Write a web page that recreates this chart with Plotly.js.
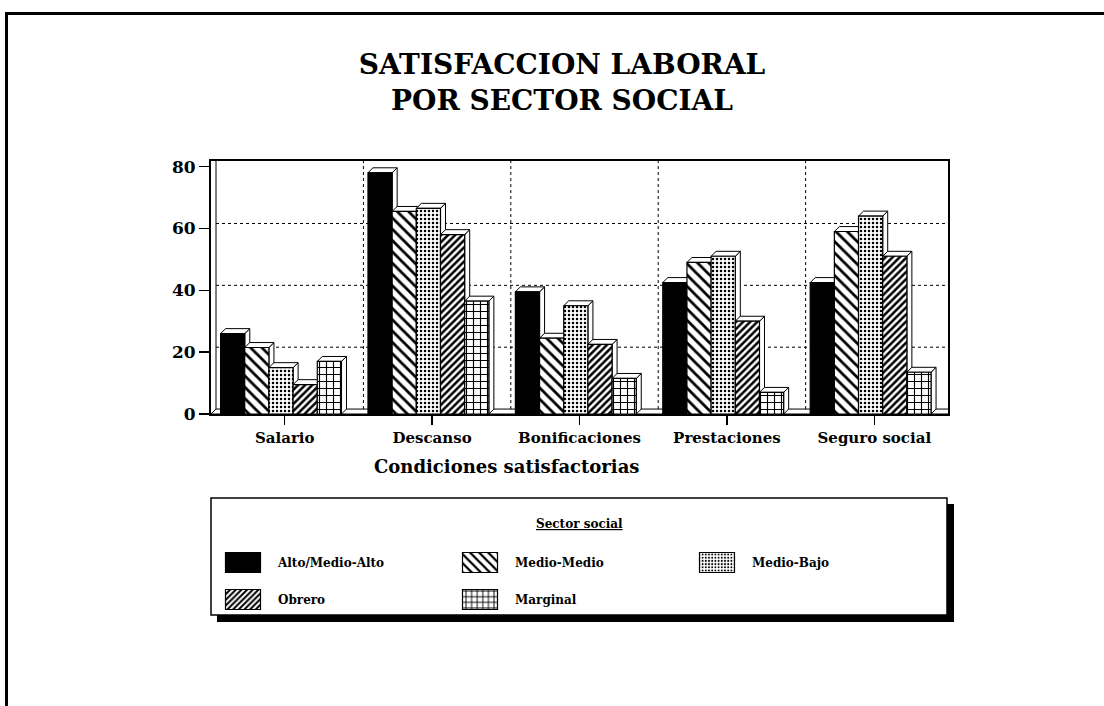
<!DOCTYPE html>
<html><head><meta charset="utf-8">
<script src="https://cdn.plot.ly/plotly-3.0.1.min.js"></script>
<style>
html,body{margin:0;padding:0;background:#fff;overflow:hidden;}
#chart{width:1104px;height:706px;}
#frame{position:absolute;left:5px;top:12px;width:1099px;height:694px;border-top:3px solid #000;border-left:3px solid #000;pointer-events:none;box-sizing:border-box;}
</style></head><body>
<div id="chart"></div><div id="frame"></div>
<script>
// ---- data ----
const categories = ['Salario', 'Descanso', 'Bonificaciones', 'Prestaciones', 'Seguro social'];
const seriesNames = ['Alto/Medio-Alto', 'Medio-Medio', 'Medio-Bajo', 'Obrero', 'Marginal'];
const altoMedioAlto = [26, 78, 39.5, 42.5, 42.5];
const medioMedio    = [21.5, 65.5, 24.5, 49, 59];
const medioBajo     = [15, 66.5, 35, 51, 64];
const obrero        = [9.5, 58, 22.5, 30, 51];
const marginal      = [17, 36.5, 11.5, 7, 13.5];
const yTicks = [0, 20, 40, 60, 80];
const titleText = 'SATISFACCION LABORAL<br>POR SECTOR SOCIAL';
const xTitle = 'Condiciones satisfactorias';
const legendTitle = 'Sector social';

const seriesValues = [altoMedioAlto, medioMedio, medioBajo, obrero, marginal];

// ---- styling ----
const xPos = categories.map((c, i) => i);
const barW = 0.164, groupStart = -0.435, dx = 0.034, dy = 1.6;
const patterns = [
  null,
  {shape: '\\', size: 8, solidity: 0.35},
  {shape: '.', size: 4, solidity: 0.3},
  {shape: '/', size: 5, solidity: 0.5},
  {shape: '+', size: 7, solidity: 0.3}
];
const serif = 'DejaVu Serif, serif';

const traces = seriesValues.map((vals, k) => {
  const marker = {line: {color: '#000', width: 1.2}};
  if (patterns[k]) {
    marker.color = '#fff';
    marker.pattern = Object.assign({fgcolor: '#000', bgcolor: '#fff', fillmode: 'replace'}, patterns[k]);
  } else {
    marker.color = '#000';
  }
  return {
    type: 'bar', x: xPos, y: vals, name: seriesNames[k],
    width: barW, offset: groupStart + k * barW,
    marker: marker, hoverinfo: 'skip',
    legend: k < 3 ? 'legend' : 'legend2'
  };
});

// ---- 3D decoration shapes computed from data ----
const shapes = [];
const xMin = -0.5, xMax = categories.length - 0.5;
const plotL = 211, plotR = 948, plotT = 161, plotB = 414;
const pw = plotR - plotL, ph = plotB - plotT;
const px2x = p => (p - plotL) / pw, px2y = p => (plotB - p) / ph;
// legend box shadow + box
shapes.push({type: 'rect', xref: 'paper', yref: 'paper', layer: 'below',
  x0: px2x(217), x1: px2x(954), y0: px2y(622), y1: px2y(504), fillcolor: '#000', line: {width: 0}});
shapes.push({type: 'rect', xref: 'paper', yref: 'paper', layer: 'below',
  x0: px2x(211), x1: px2x(947), y0: px2y(615), y1: px2y(498), fillcolor: '#fff', line: {color: '#000', width: 1.5}});
// floor
shapes.push({type: 'path', xref: 'x', yref: 'y', layer: 'between',
  path: `M${xMin},0 L${xMin + dx},${dy} L${xMax + dx},${dy} L${xMax},0 Z`,
  fillcolor: '#fff', line: {color: '#000', width: 1}});
// back wall line
shapes.push({type: 'line', xref: 'x', yref: 'y', layer: 'between',
  x0: xMin + dx, x1: xMin + dx, y0: dy, y1: 90, line: {color: '#000', width: 1}});
// back-wall gridlines
yTicks.filter(v => v > 0 && v < yTicks[yTicks.length - 1]).forEach(v => {
  shapes.push({type: 'line', xref: 'x', yref: 'y', layer: 'between',
    x0: xMin + dx, x1: xMax, y0: v + dy, y1: v + dy, line: {color: '#000', width: 1, dash: 'dot'}});
});
// category separators
categories.slice(1).forEach((c, i) => {
  const xs = i + 0.5 + dx;
  shapes.push({type: 'line', xref: 'x', yref: 'y', layer: 'between',
    x0: xs, x1: xs, y0: dy, y1: 90, line: {color: '#000', width: 1, dash: 'dot'}});
});
// bar caps and sides
categories.forEach((c, i) => {
  seriesValues.forEach((vals, k) => {
    const v = vals[i];
    const xl = i + groupStart + k * barW, xr = xl + barW;
    shapes.push({type: 'path', xref: 'x', yref: 'y', layer: 'between',
      path: `M${xr},0 L${xr},${v} L${xr + dx},${v + dy} L${xr + dx},${dy} Z`,
      fillcolor: '#fff', line: {color: '#000', width: 1}});
    shapes.push({type: 'path', xref: 'x', yref: 'y', layer: 'between',
      path: `M${xl},${v} L${xl + dx},${v + dy} L${xr + dx},${v + dy} L${xr},${v} Z`,
      fillcolor: '#fff', line: {color: '#000', width: 1}});
  });
});

const legendCommon = {
  orientation: 'h', xanchor: 'left', yanchor: 'top', x: px2x(208),
  entrywidth: 162, entrywidthmode: 'pixels', itemwidth: 60,
  font: {family: serif, size: 12, color: '#000', weight: 'bold'},
  bgcolor: 'rgba(0,0,0,0)', borderwidth: 0, traceorder: 'normal'
};

const layout = {
  width: 1104, height: 706,
  margin: {l: plotL, r: 1104 - plotR, t: plotT, b: 706 - plotB},
  paper_bgcolor: '#fff', plot_bgcolor: '#fff',
  barmode: 'overlay',
  showlegend: true,
  title: {text: titleText, font: {family: serif, size: 28, color: '#000', weight: 'bold'},
    xref: 'container', yref: 'container', x: 562 / 1104, xanchor: 'center', y: 1 - 74 / 706, yanchor: 'top'},
  xaxis: {
    range: [xMin, xMax], tickmode: 'array', tickvals: xPos, ticktext: categories,
    ticks: 'outside', ticklen: 9, tickwidth: 1.5, tickcolor: '#000',
    tickfont: {family: serif, size: 15, color: '#000', weight: 'bold'},
    showline: true, linewidth: 2, linecolor: '#000', mirror: true,
    showgrid: false, zeroline: false, fixedrange: true
  },
  yaxis: {
    range: [0, 81.8], tickmode: 'array', tickvals: yTicks,
    ticks: 'outside', ticklen: 10, tickwidth: 1.5, tickcolor: '#000',
    tickfont: {family: serif, size: 17, color: '#000', weight: 'bold'},
    showline: true, linewidth: 2, linecolor: '#000', mirror: true,
    showgrid: false, zeroline: false, fixedrange: true
  },
  legend: Object.assign({}, legendCommon, {y: px2y(548)}),
  legend2: Object.assign({}, legendCommon, {y: px2y(585)}),
  shapes: shapes,
  annotations: [{
    text: legendTitle, xref: 'paper', yref: 'paper', x: px2x(579), y: px2y(524),
    xanchor: 'center', yanchor: 'middle', showarrow: false,
    font: {family: serif, size: 12, color: '#000', weight: 'bold', lineposition: 'under'}
  }, {
    text: xTitle, xref: 'paper', yref: 'paper', x: px2x(506), y: px2y(466),
    xanchor: 'center', yanchor: 'middle', showarrow: false,
    font: {family: serif, size: 18, color: '#000', weight: 'bold'}
  }]
};

Plotly.newPlot('chart', traces, layout, {staticPlot: true}).then(() => {
  document.querySelectorAll('.legendpoints path').forEach(p => {
    p.setAttribute('d', 'M17.5,10H-17.5V-10H17.5Z');
  });
});
</script>
</body></html>
